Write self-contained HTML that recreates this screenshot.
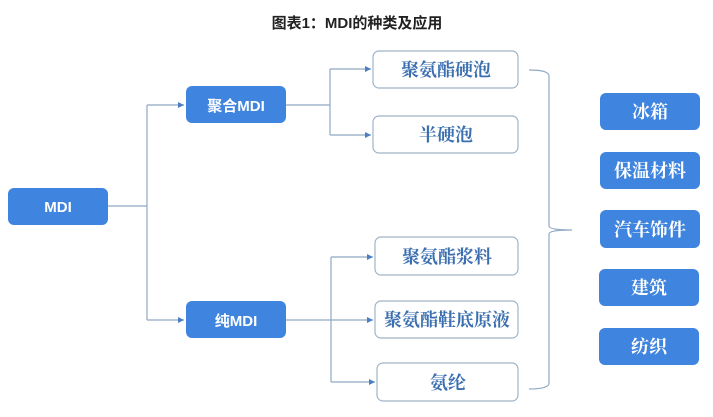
<!DOCTYPE html>
<html><head><meta charset="utf-8"><style>
html,body{margin:0;padding:0;background:#fff;width:713px;height:417px;overflow:hidden}
text{font-family:"Liberation Sans","Noto Sans CJK SC",sans-serif}
.s{font-family:"Liberation Serif","Noto Serif CJK SC","Noto Sans CJK SC",serif;font-weight:bold}
</style></head><body>
<svg width="713" height="417" viewBox="0 0 713 417" xmlns="http://www.w3.org/2000/svg">
<defs><marker id="a" markerWidth="6" markerHeight="6" refX="5" refY="3" orient="auto"><path d="M0,0.5 L5,3 L0,5.5 z" fill="#4a7fc6"/></marker></defs>
<text x="357" y="28" text-anchor="middle" font-size="15" font-weight="bold" fill="#222">图表1：MDI的种类及应用</text>
<g fill="none" stroke="#8fa9c4" stroke-width="1.2">
<path d="M108,206 H147 M147,105 V320"/>
<path d="M147,105 H184" marker-end="url(#a)"/>
<path d="M147,320 H184" marker-end="url(#a)"/>
<path d="M286,105 H330 M330,69 V135"/>
<path d="M330,69 H371" marker-end="url(#a)"/>
<path d="M330,135 H371" marker-end="url(#a)"/>
<path d="M286,320 H331 M331,257 V382"/>
<path d="M331,257 H373" marker-end="url(#a)"/>
<path d="M331,320 H373" marker-end="url(#a)"/>
<path d="M331,382 H375" marker-end="url(#a)"/>
<path d="M529,70 Q549,70 549,76 V226 Q549,230 572,230 Q549,230 549,234 V383 Q549,389 529,389"/>
</g>
<g fill="#3f84de">
<rect x="8" y="188" width="100" height="37" rx="6"/>
<rect x="186" y="86" width="100" height="37" rx="6"/>
<rect x="186" y="301" width="100" height="37" rx="6"/>
<rect x="600" y="93" width="100" height="37" rx="6"/>
<rect x="600" y="152" width="100" height="37" rx="6"/>
<rect x="600" y="210" width="100" height="38" rx="6"/>
<rect x="599" y="269" width="100" height="37" rx="6"/>
<rect x="599" y="328" width="100" height="37" rx="6"/>
</g>
<g fill="#fff" stroke="#9fb3c8" stroke-width="1.2">
<rect x="373" y="51" width="145" height="37" rx="6"/>
<rect x="373" y="116" width="145" height="37" rx="6"/>
<rect x="375" y="237" width="143" height="38" rx="6"/>
<rect x="375" y="301" width="143" height="37" rx="6"/>
<rect x="377" y="363" width="141" height="38" rx="6"/>
</g>
<g fill="#fff" font-size="15" font-weight="bold" text-anchor="middle">
<text x="58" y="212">MDI</text>
<text x="236" y="111">聚合MDI</text>
<text x="236" y="326">纯MDI</text>
</g>
<g fill="#fff" font-size="18" text-anchor="middle">
<text class="s" x="650" y="118">冰箱</text>
<text class="s" x="650" y="177">保温材料</text>
<text class="s" x="650" y="236">汽车饰件</text>
<text class="s" x="649" y="294">建筑</text>
<text class="s" x="649" y="353">纺织</text>
</g>
<g fill="#3b6fb0" font-size="18" text-anchor="middle">
<text class="s" x="446" y="76">聚氨酯硬泡</text>
<text class="s" x="446" y="141">半硬泡</text>
<text class="s" x="447" y="263">聚氨酯浆料</text>
<text class="s" x="447" y="326">聚氨酯鞋底原液</text>
<text class="s" x="448" y="389">氨纶</text>
</g>
</svg>
</body></html>
